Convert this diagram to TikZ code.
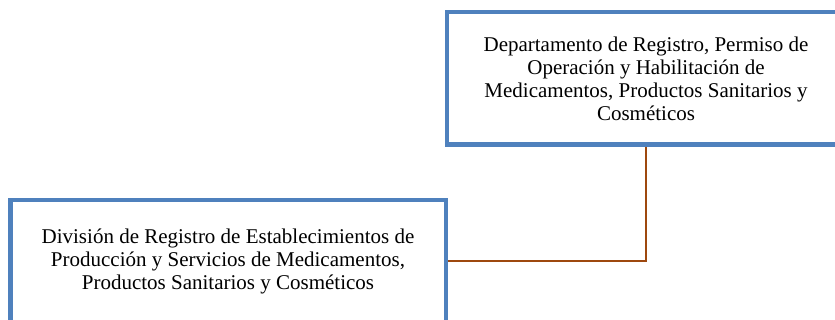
\documentclass[tikz,border=0pt]{standalone}
\usepackage{fontspec}
\setmainfont{Liberation Serif}
\usetikzlibrary{positioning}
\definecolor{boxblue}{RGB}{79, 129, 189}
\definecolor{linkbrown}{RGB}{158, 72, 14}

\begin{document}
\begin{tikzpicture}[x=1pt, y=1pt, every node/.style={font=\fontsize{21}{23}\selectfont}]
\useasboundingbox[fill=white] (0,0) rectangle (835,-320);
\node[draw=boxblue, line width=4.5pt, fill=white, align=center, minimum width=398pt, minimum height=132.5pt] (depto) at (646,-78.5)
  {Departamento de Registro, Permiso de\\Operación y Habilitación de\\Medicamentos, Productos Sanitarios y\\Cosméticos};
\node[draw=boxblue, line width=4.5pt, fill=white, align=center, minimum width=435.5pt, minimum height=121.5pt] (division) at (228,-261)
  {División de Registro de Establecimientos de\\Producción y Servicios de Medicamentos,\\Productos Sanitarios y Cosméticos};
\draw[linkbrown, line width=1.5pt] (depto.south) |- (division.east);
\end{tikzpicture}
\end{document}
